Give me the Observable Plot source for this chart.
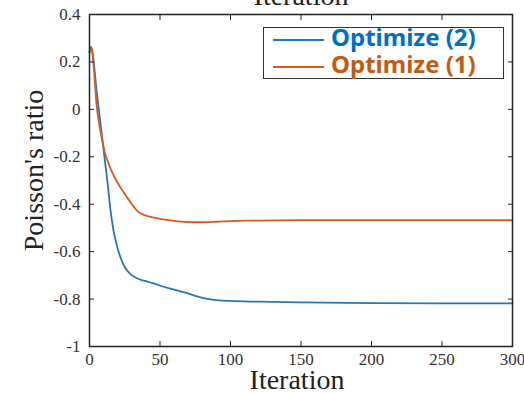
<!DOCTYPE html>
<html>
<head>
<meta charset="utf-8">
<script src="https://cdn.jsdelivr.net/npm/d3@7"></script>
<script src="https://cdn.jsdelivr.net/npm/@observablehq/plot@0.6"></script>
<style>
  html, body { margin: 0; padding: 0; background: #fff; }
  #wrap { position: relative; width: 524px; height: 393px; overflow: hidden; }
  #legend { position: absolute; left: 263px; top: 27px; width: 241px; height: 52px;
            border: 1.5px solid #333; background: #fff; box-sizing: border-box; }
  .sw { position: absolute; left: 9px; width: 51px; height: 0; border-top: 2px solid; }
  .lt { position: absolute; left: 67px; font-family: "Noto Sans", sans-serif; font-weight: bold;
        font-size: 24px; line-height: 1; white-space: nowrap; }
</style>
</head>
<body>
<div id="wrap"><div id="legend"></div></div>
<script>
// Series names and colours
const seriesNames = ["Optimize (2)", "Optimize (1)"];
const lineColors = ["#2478b8", "#d65a1f"];
const textColors = ["#0070c0", "#c55a11"];

// Optimize (2) — blue
const iterB = [0, 1, 2, 3, 5, 7, 9, 11, 13, 15, 17, 19, 22, 25, 29, 33, 37, 41, 46, 52, 60, 68, 78, 88, 100, 120, 150, 200, 250, 300];
const valB  = [0.24, 0.262, 0.245, 0.2, 0.08, -0.02, -0.12, -0.22, -0.32, -0.43, -0.51, -0.565, -0.625, -0.665, -0.695, -0.71, -0.72, -0.726, -0.735, -0.747, -0.76, -0.773, -0.792, -0.803, -0.808, -0.811, -0.814, -0.817, -0.818, -0.818];

// Optimize (1) — orange
const iterO = [0, 1, 2, 3, 5, 7, 9, 11, 13, 16, 19, 22, 26, 30, 35, 40, 45, 50, 55, 62, 70, 80, 90, 100, 115, 150, 200, 250, 300];
const valO  = [0.24, 0.262, 0.24, 0.18, 0.02, -0.065, -0.13, -0.185, -0.22, -0.265, -0.3, -0.33, -0.365, -0.4, -0.434, -0.448, -0.456, -0.462, -0.466, -0.472, -0.476, -0.476, -0.474, -0.471, -0.469, -0.467, -0.467, -0.467, -0.467];

const xTicks = [0, 50, 100, 150, 200, 250, 300];
const xTopTicks = [50, 100, 150, 200, 250];
const yTicks = [-1, -0.8, -0.6, -0.4, -0.2, 0, 0.2, 0.4];

const rows = [
  ...iterB.map((x, i) => ({x, y: valB[i], s: seriesNames[0]})),
  ...iterO.map((x, i) => ({x, y: valO[i], s: seriesNames[1]}))
];

const serif = "Liberation Serif, Times New Roman, serif";
const fmt = d => String(+d.toFixed(1));

const chart = Plot.plot({
  width: 524, height: 393,
  marginLeft: 89, marginRight: 12, marginTop: 14, marginBottom: 47,
  style: {fontFamily: serif, fontSize: "17px", color: "#333", background: "#fff"},
  x: {domain: [0, 300]},
  y: {domain: [-1, 0.4]},
  color: {domain: seriesNames, range: lineColors},
  marks: [
    Plot.line(rows, {x: "x", y: "y", z: "s", stroke: "s", strokeWidth: 1.8, curve: "monotone-x"}),
    // inward ticks
    Plot.axisX(xTicks, {anchor: "bottom", tickSize: -5, text: null, label: null, stroke: "#222"}),
    Plot.axisX(xTopTicks, {anchor: "top", tickSize: -5, text: null, label: null, stroke: "#222"}),
    Plot.axisY(yTicks, {anchor: "left", tickSize: -5, text: null, label: null, stroke: "#222"}),
    Plot.axisY(yTicks, {anchor: "right", tickSize: -5, text: null, label: null, stroke: "#222"}),
    // tick labels
    Plot.axisX(xTicks, {anchor: "bottom", tickSize: 0, tickPadding: 6, tickFormat: fmt, label: null, fill: "#333"}),
    Plot.axisY(yTicks, {anchor: "left", tickSize: 0, tickPadding: 9, tickFormat: fmt, label: null, fill: "#333"}),
    Plot.frame({stroke: "#222", strokeWidth: 1.5}),
    // titles
    Plot.text(["Iteration"], {frameAnchor: "bottom", dy: 42, dx: -4, lineAnchor: "bottom", fontSize: 28, fill: "#222"}),
    Plot.text(["Iteration"], {frameAnchor: "top", dy: -10, dx: 0, lineAnchor: "bottom", fontSize: 28, fill: "#222"}),
    Plot.text(["Poisson's ratio"], {frameAnchor: "left", textAnchor: "middle", rotate: -90, dx: -47, dy: -10, lineAnchor: "bottom", fontSize: 28, fill: "#222"})
  ]
});
const wrap = document.getElementById("wrap");
wrap.insertBefore(chart, wrap.firstChild);

const legend = document.getElementById("legend");
const swY = [11, 38];
const txY = [-3, 24];
seriesNames.forEach((name, i) => {
  const sw = document.createElement("div");
  sw.className = "sw";
  sw.style.top = swY[i] + "px";
  sw.style.borderTopColor = lineColors[i];
  legend.appendChild(sw);
  const t = document.createElement("div");
  t.className = "lt";
  t.style.top = txY[i] + "px";
  t.style.color = textColors[i];
  t.textContent = name;
  legend.appendChild(t);
});
</script>
</body>
</html>
